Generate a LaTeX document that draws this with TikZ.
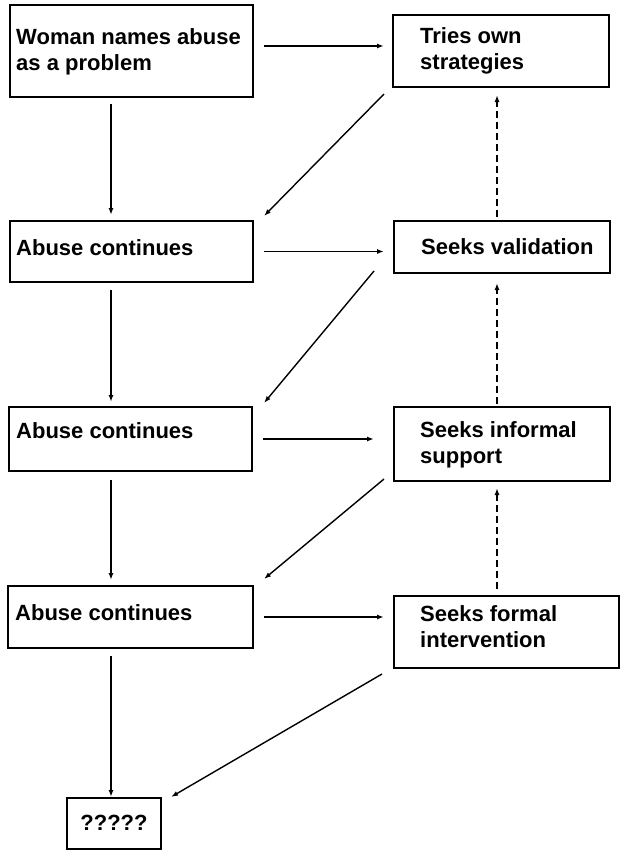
\documentclass[tikz,border=0pt]{standalone}
\usepackage{fontspec}
\setmainfont{Liberation Sans}
\usetikzlibrary{arrows.meta,calc}
\begin{document}
\begin{tikzpicture}[x=1pt,y=-1pt,
  boxstyle/.style={draw=black,line width=1.8pt,inner sep=0pt,outer sep=0pt,fill=white},
  lbl/.style={font=\bfseries\fontsize{22}{26}\selectfont,align=left,inner sep=0pt,anchor=west},
  arr/.style={line width=1.4pt,-{Latex[length=7pt,width=5pt]}},
  dsh/.style={arr,dash pattern=on 7pt off 4pt}]
\useasboundingbox[fill=white] (0,0) rectangle (625,851);
% boxes
\node[boxstyle,minimum width=243,minimum height=92] (b1) at (131.5,51) {};
\node[boxstyle,minimum width=216,minimum height=72] (b2) at (501,51) {};
\node[boxstyle,minimum width=243,minimum height=61] (b3) at (131.5,251.5) {};
\node[boxstyle,minimum width=216,minimum height=52] (b4) at (502,247) {};
\node[boxstyle,minimum width=243,minimum height=64] (b5) at (130.5,439) {};
\node[boxstyle,minimum width=216,minimum height=74] (b6) at (502,444) {};
\node[boxstyle,minimum width=245,minimum height=62] (b7) at (130.5,617) {};
\node[boxstyle,minimum width=225,minimum height=72] (b8) at (506.5,632) {};
\node[boxstyle,minimum width=94,minimum height=51] (b9) at (114,823.5) {};
% texts
\node[lbl] (t1) at (16,52) {Woman names abuse\\as a problem};
\node[lbl] (t2) at (420,51) {Tries own\\strategies};
\node[lbl] (t3) at (16,248) {Abuse continues};
\node[lbl] (t4) at (421,247) {Seeks validation};
\node[lbl] (t5) at (16,431) {Abuse continues};
\node[lbl] (t6) at (420,445) {Seeks informal\\support};
\node[lbl] (t7) at (15,613) {Abuse continues};
\node[lbl] (t8) at (420,627) {Seeks formal\\intervention};
\node[lbl,anchor=center] (t9) at (114,823) {?????};
% column coordinates
\coordinate (lc) at (111,0);
\coordinate (rc) at (497,0);
% horizontal arrows
\draw[arr] ($(b1.east)+(11,-5)$) -- ($(b2.west)+(-9,-5)$);
\draw[arr,shorten <=11pt,shorten >=10pt] (b3.east) -- (b3.east -| b4.west);
\draw[arr,shorten <=11pt,shorten >=20pt] (b5.east) -- (b5.east -| b6.west);
\draw[arr,shorten <=11pt,shorten >=10pt] (b7.east) -- (b7.east -| b8.west);
% vertical arrows
\draw[arr,shorten <=7pt,shorten >=6pt] (b1.south -| lc) -- (b3.north -| lc);
\draw[arr,shorten <=8pt,shorten >=5pt] (b3.south -| lc) -- (b5.north -| lc);
\draw[arr,shorten <=9pt,shorten >=6pt] (b5.south -| lc) -- (b7.north -| lc);
\draw[arr,shorten <=8pt,shorten >=1pt] (b7.south -| lc) -- (b9.north -| lc);
% diagonal arrows
\draw[arr] ($(b2.south west)+(-9,7)$) -- ($(b3.north east)+(11,-5)$);
\draw[arr] ($(b4.south west)+(-20,-2)$) -- ($(b5.north east)+(12,-4)$);
\draw[arr] ($(b6.south west)+(-10,-2)$) -- ($(b7.north east)+(11,-7)$);
\draw[arr] ($(b8.south west)+(-12,6)$) -- ($(b9.north east)+(10,-1)$);
% dashed arrows
\draw[dsh] ($(b4.north -| rc)+(0,-4)$) -- ($(b2.south -| rc)+(0,8)$);
\draw[dsh] ($(b6.north -| rc)+(0,-3)$) -- ($(b4.south -| rc)+(0,10)$);
\draw[dsh] ($(b8.north -| rc)+(0,-7)$) -- ($(b6.south -| rc)+(0,7)$);
\end{tikzpicture}
\end{document}
